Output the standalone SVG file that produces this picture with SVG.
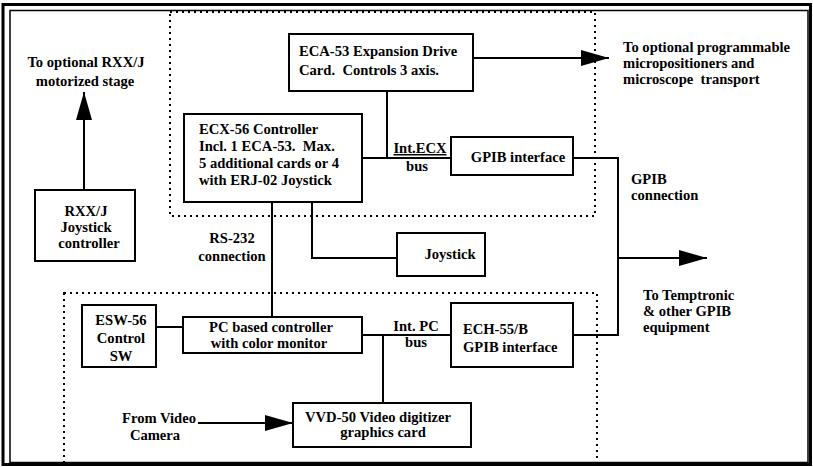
<svg xmlns="http://www.w3.org/2000/svg" width="813" height="467" viewBox="0 0 813 467">
<style>
  .box { fill: #fff; stroke: #000; stroke-width: 2; }
  .line { fill: none; stroke: #000; stroke-width: 2; }
  .dot { fill: none; stroke: #000; stroke-width: 2; stroke-dasharray: 2 4; }
  text { font-family: "Liberation Serif", "Times New Roman", serif; font-weight: bold; font-size: 14.6px; fill: #000; white-space: pre; }
  .c { text-anchor: middle; }
</style>
<defs>
  <marker id="arr" markerUnits="userSpaceOnUse" markerWidth="29" markerHeight="18" refX="28" refY="9" orient="auto">
    <path d="M0,1 L28,9 L0,17 Z" fill="#000"/>
  </marker>
</defs>
<rect width="813" height="467" fill="#fff"/>
<!-- frame -->
<rect x="3" y="4.5" width="807.5" height="460" fill="none" stroke="#000" stroke-width="3"/>
<rect x="10" y="10.5" width="798" height="452" fill="none" stroke="#000" stroke-width="1.5"/>
<!-- dotted regions -->
<rect class="dot" x="170" y="12" width="425" height="204"/>
<rect class="dot" x="64" y="293" width="533" height="170"/>

<g id="connectors">
  <path class="line" d="M84,190 V92" marker-end="url(#arr)"/>
  <path class="line" d="M473,58 H609" marker-end="url(#arr)"/>
  <path class="line" d="M387,91 V158"/>
  <path class="line" d="M362,158 H451"/>
  <path class="line" d="M573,158 H618 V335 H574"/>
  <path class="line" d="M618,258 H707" marker-end="url(#arr)"/>
  <path class="line" d="M272,202 V317"/>
  <path class="line" d="M312,202 V258 H397"/>
  <path class="line" d="M156,327 H183"/>
  <path class="line" d="M362,335 H451"/>
  <path class="line" d="M383,335 V403"/>
  <path class="line" d="M198,423 H293" marker-end="url(#arr)"/>
</g>

<g id="label-rxx">
  <text class="c" x="86" y="67">To optional RXX/J</text>
  <text class="c" x="85" y="86">motorized stage</text>
</g>
<g id="label-micro">
  <text x="623" y="52">To optional programmable</text>
  <text x="623" y="68">micropositioners and</text>
  <text x="623" y="84" xml:space="preserve">microscope  transport</text>
</g>
<g id="label-intecx">
  <text class="c" x="420" y="153" text-decoration="underline">Int.ECX</text>
  <text class="c" x="417" y="171">bus</text>
</g>
<g id="label-gpib">
  <text x="631" y="184">GPIB</text>
  <text x="631" y="200">connection</text>
</g>
<g id="label-rs232">
  <text class="c" x="232" y="243">RS-232</text>
  <text class="c" x="232" y="261">connection</text>
</g>
<g id="label-temptronic">
  <text x="643" y="300">To Temptronic</text>
  <text x="643" y="316">&amp; other GPIB</text>
  <text x="643" y="332">equipment</text>
</g>
<g id="label-intpc">
  <text class="c" x="416" y="331">Int. PC</text>
  <text class="c" x="416" y="347">bus</text>
</g>
<g id="label-video">
  <text class="c" x="159" y="423">From Video</text>
  <text class="c" x="155" y="440">Camera</text>
</g>

<g id="eca53">
  <rect class="box" x="289" y="34" width="184" height="57"/>
  <text x="299" y="56">ECA-53 Expansion Drive</text>
  <text x="299" y="75" xml:space="preserve">Card.  Controls 3 axis.</text>
</g>
<g id="ecx56">
  <rect class="box" x="184" y="114" width="178" height="88"/>
  <text x="199" y="134">ECX-56 Controller</text>
  <text x="199" y="151" xml:space="preserve">Incl. 1 ECA-53.  Max.</text>
  <text x="199" y="168">5 additional cards or 4</text>
  <text x="199" y="185">with ERJ-02 Joystick</text>
</g>
<g id="gpib-if">
  <rect class="box" x="451" y="137" width="122" height="38"/>
  <text class="c" x="518" y="162">GPIB interface</text>
</g>
<g id="rxxj">
  <rect class="box" x="35" y="190" width="100" height="71"/>
  <text class="c" x="86" y="216">RXX/J</text>
  <text class="c" x="86" y="232">Joystick</text>
  <text class="c" x="89" y="248">controller</text>
</g>
<g id="joystick">
  <rect class="box" x="397" y="233" width="88" height="43"/>
  <text class="c" x="450" y="259">Joystick</text>
</g>
<g id="esw56">
  <rect class="box" x="82" y="305" width="74" height="62"/>
  <text class="c" x="121" y="325">ESW-56</text>
  <text class="c" x="121" y="343">Control</text>
  <text class="c" x="121" y="361">SW</text>
</g>
<g id="pc">
  <rect class="box" x="183" y="317" width="179" height="36"/>
  <text class="c" x="271" y="332">PC based controller</text>
  <text class="c" x="269" y="348">with color monitor</text>
</g>
<g id="ech55">
  <rect class="box" x="451" y="303" width="122" height="64"/>
  <text x="463" y="334">ECH-55/B</text>
  <text x="463" y="352">GPIB interface</text>
</g>
<g id="vvd50">
  <rect class="box" x="293" y="403" width="178" height="44"/>
  <text class="c" x="378" y="422">VVD-50 Video digitizer</text>
  <text class="c" x="383" y="437">graphics card</text>
</g>
</svg>
